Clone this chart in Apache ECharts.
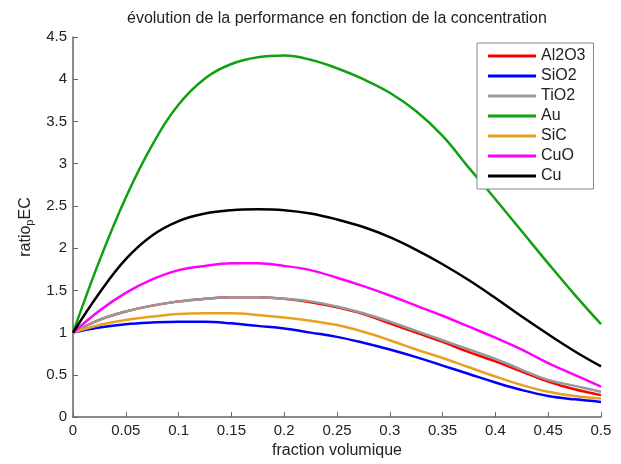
<!DOCTYPE html>
<html>
<head>
<meta charset="utf-8">
<script src="https://cdn.jsdelivr.net/npm/echarts@6/dist/echarts.min.js"></script>
<style>
  html, body { margin: 0; padding: 0; background: #fff; }
  #chart { width: 621px; height: 464px; }
</style>
</head>
<body>
<div id="chart"></div>
<script>
// fraction volumique (x), one point every 0.025
const fractions = [0, 0.025, 0.05, 0.075, 0.1, 0.125, 0.15, 0.175, 0.2, 0.225, 0.25,
    0.275, 0.3, 0.325, 0.35, 0.375, 0.4, 0.425, 0.45, 0.475, 0.5];

const al2o3 = [1.0, 1.15, 1.25, 1.32, 1.37, 1.40, 1.42, 1.42, 1.40, 1.36, 1.30,
    1.22, 1.11, 1.00, 0.89, 0.77, 0.66, 0.54, 0.42, 0.33, 0.26];
const sio2 = [1.0, 1.06, 1.10, 1.12, 1.13, 1.13, 1.11, 1.08, 1.05, 1.00, 0.95,
    0.88, 0.80, 0.71, 0.61, 0.51, 0.41, 0.32, 0.25, 0.21, 0.18];
const tio2 = [1.0, 1.15, 1.25, 1.32, 1.37, 1.40, 1.42, 1.42, 1.40, 1.37, 1.31,
    1.23, 1.13, 1.02, 0.91, 0.80, 0.69, 0.56, 0.44, 0.37, 0.30];
const au = [1.0, 1.85, 2.60, 3.22, 3.70, 4.01, 4.18, 4.26, 4.28, 4.23, 4.13,
    4.00, 3.84, 3.62, 3.33, 2.95, 2.58, 2.20, 1.82, 1.45, 1.10];
const sic = [1.0, 1.09, 1.15, 1.19, 1.22, 1.23, 1.23, 1.21, 1.18, 1.14, 1.09,
    1.01, 0.91, 0.80, 0.70, 0.59, 0.48, 0.38, 0.30, 0.25, 0.22];
const cuo = [1.0, 1.26, 1.47, 1.63, 1.74, 1.79, 1.82, 1.82, 1.79, 1.74, 1.65,
    1.55, 1.44, 1.32, 1.20, 1.07, 0.94, 0.80, 0.64, 0.50, 0.36];
const cu = [1.0, 1.47, 1.87, 2.15, 2.32, 2.41, 2.45, 2.46, 2.45, 2.41, 2.34,
    2.25, 2.13, 1.98, 1.81, 1.62, 1.41, 1.19, 0.98, 0.78, 0.60];

const names = ['Al2O3', 'SiO2', 'TiO2', 'Au', 'SiC', 'CuO', 'Cu'];
const values = [al2o3, sio2, tio2, au, sic, cuo, cu];
const colors = ['#ff0000', '#0000ff', '#999999', '#10a010', '#e8a020', '#ff00ff', '#000000'];

const fontFamily = '"Liberation Sans", Arial, sans-serif';
const axisColor = '#666';
const textColor = '#222';

const chart = echarts.init(document.getElementById('chart'), null, {renderer: 'canvas'});

const series = names.map((name, i) => ({
    name,
    type: 'line',
    smooth: 0.4,
    showSymbol: false,
    symbol: 'none',
    data: fractions.map((x, j) => [x, values[i][j]]),
    lineStyle: { color: colors[i], width: 2.5 },
    itemStyle: { color: colors[i] }
}));

chart.setOption({
    animation: false,
    textStyle: { fontFamily },
    title: {
        text: 'évolution de la performance en fonction de la concentration',
        left: 122,
        top: 6,
        textStyle: { fontSize: 16, fontWeight: 'normal', color: textColor, fontFamily }
    },
    legend: {
        orient: 'vertical',
        left: 477,
        top: 43,
        padding: [5, 8, 5, 11],
        borderColor: '#888',
        borderWidth: 1,
        backgroundColor: '#fff',
        icon: 'rect',
        itemWidth: 48,
        itemHeight: 3,
        itemGap: 4,
        textStyle: { fontSize: 16, color: textColor, lineHeight: 16, fontFamily },
        data: names
    },
    grid: { left: 73, right: 20, top: 37, bottom: 40 },
    xAxis: {
        type: 'value',
        min: 0,
        max: 0.5,
        interval: 0.05,
        name: 'fraction volumique',
        nameLocation: 'middle',
        nameGap: 24,
        nameTextStyle: { fontSize: 16, color: textColor, fontFamily },
        axisLine: { lineStyle: { color: axisColor, width: 1.5 } },
        axisTick: { inside: true, length: 5, lineStyle: { color: axisColor } },
        axisLabel: {
            fontSize: 15, color: textColor, margin: 6, fontFamily,
            formatter: v => String(+v.toFixed(2))
        },
        splitLine: { show: false }
    },
    yAxis: {
        type: 'value',
        min: 0,
        max: 4.5,
        interval: 0.5,
        name: '{a|ratio}{s|p}{a|EC}',
        nameLocation: 'middle',
        nameGap: 33,
        nameRotate: 90,
        nameTextStyle: {
            rich: {
                a: { fontSize: 16, color: textColor, fontFamily, lineHeight: 20 },
                s: { fontSize: 11, color: textColor, fontFamily, lineHeight: 20, padding: [9, 0, 0, 0] }
            }
        },
        axisLine: { show: true, lineStyle: { color: axisColor, width: 1.5 } },
        axisTick: { show: true, inside: true, length: 5, lineStyle: { color: axisColor } },
        axisLabel: {
            fontSize: 15, color: textColor, margin: 6, fontFamily,
            formatter: v => String(+v.toFixed(1))
        },
        splitLine: { show: false }
    },
    series
});
</script>
</body>
</html>
